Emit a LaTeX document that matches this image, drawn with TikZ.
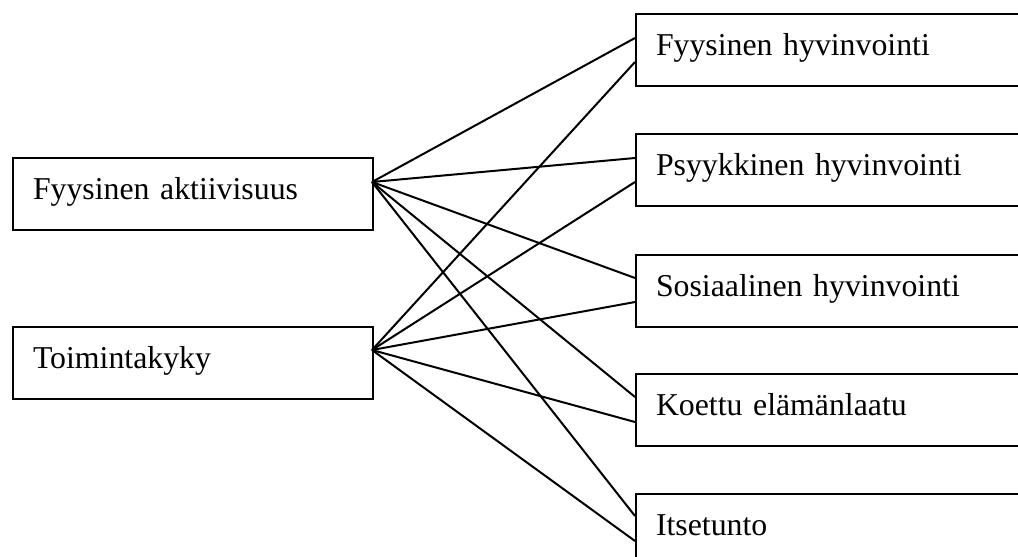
\documentclass[tikz,border=0pt]{standalone}
\usepackage{fontspec}
\setmainfont{Liberation Serif}
\begin{document}
\begin{tikzpicture}[x=0.75pt,y=-0.75pt,
  box/.style={draw=black, line width=1.5pt, rectangle, anchor=north west,
    inner xsep=15pt, inner ysep=0pt, align=left,
    text height=30.75pt, text depth=23.25pt,
    font=\fontsize{23.85}{28}\selectfont},
  lbox/.style={box, text width=240pt},
  rbox/.style={box, text width=270pt},
  conn/.style={line width=1.5pt, draw=black}]
\useasboundingbox (0,0) rectangle (1018,557);
\clip (0,0) rectangle (1018,557);
\node[lbox] (fa) at (12,157) {Fyysinen aktiivisuus};
\node[lbox] (tk) at (12,326) {Toimintakyky};
\node[rbox] (fh) at (635,13) {Fyysinen hyvinvointi};
\node[rbox] (ph) at (635,133) {Psyykkinen hyvinvointi};
\node[rbox] (sh) at (635,254) {Sosiaalinen hyvinvointi};
\node[rbox] (ke) at (635,373) {Koettu elämänlaatu};
\node[rbox] (it) at (635,493) {Itsetunto};
\coordinate (faout) at (372,182);
\coordinate (tkout) at (372,350);
\coordinate (fh1) at (635,38);
\coordinate (fh2) at (635,62);
\coordinate (ph1) at (635,158);
\coordinate (ph2) at (635,182);
\coordinate (sh1) at (635,278);
\coordinate (sh2) at (635,302);
\coordinate (ke1) at (635,397);
\coordinate (ke2) at (635,422);
\coordinate (it1) at (635,516);
\coordinate (it2) at (635,541);
\foreach \t in {fh1,ph1,sh1,ke1,it1} \draw[conn] (faout) -- (\t);
\foreach \t in {fh2,ph2,sh2,ke2,it2} \draw[conn] (tkout) -- (\t);
\end{tikzpicture}
\end{document}
